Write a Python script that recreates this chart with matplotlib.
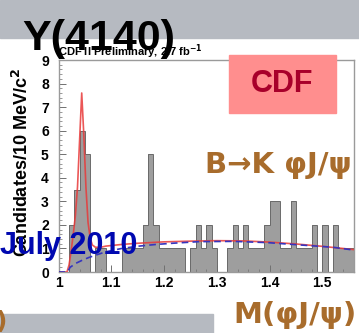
import matplotlib
matplotlib.use("Agg")
import matplotlib.pyplot as plt
from matplotlib.patches import Rectangle
import numpy as np

# histogram: M(phi J/psi) - M(J/psi) in GeV/c^2, 10 MeV bins from 1.00 to 1.56
bin_lo = 1.00
bin_w = 0.01
counts = [0, 0, 2, 3.5, 6, 5, 0, 1, 1, 0,
          0, 0, 1, 1, 1, 1, 2, 5, 2, 1,
          1, 1, 1, 1, 0, 1, 2, 1, 2, 1,
          0, 0, 1, 2, 1, 2, 1, 1, 1, 2,
          3, 3, 1, 1, 3, 1, 1, 1, 2, 0,
          2, 0, 2, 1, 1, 1]

# total fit (red)
fit_m = [1.000, 1.016, 1.020, 1.024, 1.028, 1.032, 1.036, 1.040, 1.044, 1.048,
         1.052, 1.056, 1.060, 1.064, 1.070, 1.080, 1.090, 1.120, 1.150, 1.200,
         1.250, 1.300, 1.350, 1.400, 1.450, 1.500, 1.530, 1.560]
fit_y = [0, 0, 0.3, 0.9, 1.6, 2.4, 3.6, 5.6, 7.6, 5.8,
         3.6, 2.1, 1.45, 1.15, 1.05, 1.05, 1.1, 1.17, 1.22, 1.28,
         1.31, 1.33, 1.32, 1.27, 1.19, 1.09, 1.02, 0.95]

# background only (blue dashed)
bg_m = [1.000, 1.017, 1.022, 1.033, 1.045, 1.058, 1.075, 1.090, 1.120, 1.153,
        1.185, 1.216, 1.267, 1.331, 1.394, 1.457, 1.520, 1.560]
bg_y = [0, 0, 0.2, 0.37, 0.5, 0.62, 0.75, 0.86, 1.0, 1.1,
        1.17, 1.22, 1.29, 1.3, 1.25, 1.15, 1.05, 0.93]

xticks = [1.0, 1.1, 1.2, 1.3, 1.4, 1.5]
xticklabels = ["1", "1.1", "1.2", "1.3", "1.4", "1.5"]
yticks = list(range(10))

W, H = 359, 333
fig = plt.figure(figsize=(W / 100, H / 100), dpi=100)

def fx(px):
    return px / W

def fy(py):
    return 1 - py / H

band = "#b6bac1"
brown = "#a86c2c"
fig.patches.append(Rectangle((0, fy(38)), 1, 38 / H, transform=fig.transFigure,
                             color=band, zorder=0))
fig.patches.append(Rectangle((0, 0), fx(213), 19 / H, transform=fig.transFigure,
                             color=band, zorder=0))

ax = fig.add_axes([fx(58.5), fy(272), fx(354) - fx(58.5), (272 - 60) / H])
edges = bin_lo + bin_w * np.arange(len(counts) + 1)
ax.stairs(counts, edges, fill=True, color="#9e9e9e", zorder=1)
ax.stairs(counts, edges, color="#6a6a6a", lw=0.7, zorder=2)
ax.plot(fit_m, fit_y, color="#e83a3a", lw=1.2, alpha=0.85, zorder=3)
ax.plot(bg_m, bg_y, color="#3535c0", lw=1.2, ls=(0, (4, 2.5)), zorder=4)

ax.set_xlim(1.0, edges[-1])
ax.set_ylim(0, 9)
ax.set_xticks(xticks)
ax.set_xticklabels(xticklabels)
ax.set_xticks(np.arange(1.0, 1.56, 0.02), minor=True)
ax.set_yticks(yticks)
ax.set_yticks(np.arange(0, 9.01, 0.2), minor=True)
for s in ax.spines.values():
    s.set_color("#9a9a9a")
    s.set_linewidth(1.0)
ax.tick_params(which="both", direction="in", color="#707070", top=False, right=False)
ax.tick_params(which="major", length=5, width=0.7)
ax.tick_params(which="minor", length=2.5, width=0.5)
ax.tick_params(axis="y", pad=7)
ax.tick_params(axis="x", pad=3)
for lab in ax.get_xticklabels() + ax.get_yticklabels():
    lab.set_fontfamily("Liberation Sans")
    lab.set_fontweight("bold")
    lab.set_fontsize(10)

fig.text(fx(22), fy(163), "Candidates/10 MeV/c$^\\mathbf{2}$", rotation=90,
         ha="center", va="center", fontsize=13, fontweight="bold",
         family="Liberation Sans")
fig.text(fx(58), fy(56), "CDF II Preliminary, 2.7 fb$^{\\mathbf{-1}}$",
         ha="left", va="baseline", fontsize=8, fontweight="bold",
         family="Liberation Sans", zorder=3)

fig.text(fx(22), fy(50), "Y(4140)", ha="left", va="baseline", fontsize=31,
         fontweight="bold", family="Liberation Sans", color="black", zorder=2)

fig.patches.append(Rectangle((fx(229), fy(113)), fx(336) - fx(229), (113 - 55) / H,
                             transform=fig.transFigure, color="#ff8e8e", zorder=5))
fig.text(fx(282), fy(84), "CDF", ha="center", va="center", fontsize=22,
         fontweight="bold", color="#a8002a", family="Liberation Sans", zorder=6)

fig.text(fx(278), fy(165), "B→K φJ/ψ", ha="center", va="center", fontsize=21,
         fontweight="bold", color=brown, family="DejaVu Sans")
fig.text(fx(295), fy(315), "M(φJ/ψ)", ha="center", va="center", fontsize=21,
         fontweight="bold", color=brown, family="DejaVu Sans")
fig.text(fx(-4), fy(322), ")", ha="left", va="center", fontsize=18,
         fontweight="bold", color=brown, family="DejaVu Sans")

fig.text(fx(0), fy(246), "July 2010", ha="left", va="center", fontsize=22,
         fontweight="bold", color="#0008b0", family="Liberation Sans", zorder=7)

fig.savefig("out.png", dpi=100)
